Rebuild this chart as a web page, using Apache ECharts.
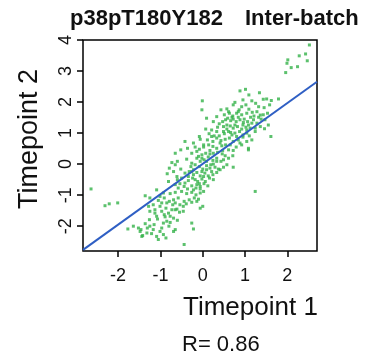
<!DOCTYPE html>
<html>
<head>
<meta charset="utf-8">
<script src="https://cdn.jsdelivr.net/npm/echarts@6/dist/echarts.min.js"></script>
<style>
  html, body { margin: 0; padding: 0; background: #ffffff; }
  #chart { width: 368px; height: 358px; }
</style>
</head>
<body>
<div id="chart"></div>
<script>
// p38pT180Y182 phospho-signal, inter-batch comparison: timepoint 1 vs timepoint 2
const timepoint1 = [
  2.52, 2.43, 2.47, 2.28, 2.01, 1.99, 2.09, 2.24, 1.96,
  0.88, 1.01, 1.34, 1.09,
  -0.01, 0.95, 1.16, 1.43, 1.51, 1.62, 1.79, 1.25, 0.76,
  -0.02, 0.43, 0.57, 0.72, 0.86, 1.09, 1.32, 1.45, 1.58, 0.92, 1.02,
  0.09, 0.63, 0.71, 0.80, 0.92, 1.04, 1.17, 1.28, 1.36, 1.53, 1.13, 1.21, 0.51, 0.33,
  0.25, 0.39, 0.54, 0.59, 0.66, 0.72, 0.79, 0.88, 0.98, 1.06, 1.38, 1.47, 1.28, 1.16, 0.57,
  0.07, 0.21, 0.35, 0.49, 0.65, 0.72, 0.82, 0.95, 1.02, 1.12, 1.24, 1.36, 1.46, 0.49, 1.55,
  -0.42, -0.08, 0.15, 0.27, 0.39, 0.51, 0.61, 0.69, 0.76, 0.87, 0.95, 1.04, 1.10, 1.61, 1.24,
  -0.22, -0.06, 0.02, 0.11, 0.24, 0.33, 0.43, 0.53, 0.63, 0.72, 0.84, 0.95, 1.04, 1.08, 1.08, 1.16,
  -0.52, -0.36, -0.18, -0.08, 0.02, 0.14, 0.24, 0.33, 0.45, 0.54, 0.65, 0.79, 0.92, 0.47, 0.61,
  -0.65, -0.26, -0.14, -0.02, 0.07, 0.17, 0.25, 0.35, 0.46, 0.53, 0.72, 0.71, 0.61, -0.02,
  -0.73, -0.60, -0.38, -0.26, -0.14, -0.06, 0.03, 0.13, 0.24, 0.33, 0.43, 0.25, 0.49,
  -0.79, -0.65, -0.52, -0.28, -0.18, -0.08, 0.00, 0.09, 0.17, 0.29, 0.37, 0.49, 0.57, 0.72, 0.41,
  -0.84, -0.69, -0.61, -0.42, -0.32, -0.22, -0.14, -0.06, 0.05, 0.13, 0.24, 0.33, -0.22, -0.02,
  -0.81, -0.60, -0.50, -0.34, -0.24, -0.12, -0.02, 0.06, 0.16, 0.25, -0.14, -0.06,
  -0.65, -0.58, -0.44, -0.36, -0.26, -0.16, -0.06, 0.03, 0.12, -0.54,
  -1.36, -1.09, -0.93, -0.77, -0.65, -0.50, -0.38, -0.26, -0.16, -0.06, 0.02, 1.24, -1.01,
  -1.25, -1.05, -0.91, -0.79, -0.69, -0.58, -0.44, -0.32, -0.20, -0.10, -0.26, -0.14,
  -2.31, -2.21, -2.01, -1.28, -1.17, -0.97, -0.87, -0.71, -0.61, -0.46, -0.39, 0.00, -0.06,
  -1.25, -1.13, -0.97, -0.91, -0.81, -0.65, -0.55, -0.46, -0.77,
  -1.26, -1.07, -0.89, -0.85, -0.69, -0.60, -1.15, -0.26,
  -1.64, -1.52, -1.36, -1.25, -1.46, -0.97, -0.80, -0.65, -0.22, -1.77,
  -1.48, -1.32, -1.42, -1.21, -1.09, -0.93, -0.69,
  -1.44, -1.05, -0.87, -0.44,
  -2.64,
  0.61, 0.69, 0.84, 0.96, 1.08, 1.20, 1.32, 1.43, 0.84, 0.47,
  0.76, 0.92, 1.04, 0.57, 0.66, 0.33, 0.21, 0.80, 0.88, 0.41,
  -0.10, 0.09, 0.19, 0.02, -0.18, -0.26, 0.09, 0.21, -0.34, -0.08, -0.22, -0.42, 0.33, 0.17,
  -0.85, -0.73, -1.01, -1.09, -0.93, -0.77, -1.31, -1.17, -1.01, -0.65, -0.54, -1.13
];
const timepoint2 = [
  3.84, 3.55, 3.33, 3.49, 3.36, 3.25, 3.11, 3.14, 2.95,
  2.36, 2.41, 2.30, 2.23,
  2.04, 2.07, 2.04, 2.09, 2.10, 2.05, 2.10, 1.96, 1.99,
  1.75, 1.75, 1.78, 1.91, 1.75, 1.77, 1.85, 1.82, 1.91, 1.85, 1.91,
  1.48, 1.64, 1.55, 1.64, 1.59, 1.64, 1.67, 1.69, 1.58, 1.64, 1.51, 1.55, 1.59, 1.53,
  1.37, 1.30, 1.43, 1.48, 1.40, 1.45, 1.37, 1.43, 1.45, 1.37, 1.45, 1.43, 1.32, 1.32, 1.26,
  1.13, 1.10, 1.19, 1.21, 1.23, 1.16, 1.21, 1.26, 1.19, 1.16, 1.16, 1.21, 1.14, 1.05, 1.26,
  0.73, 0.89, 0.98, 0.91, 0.91, 0.98, 1.05, 0.94, 1.00, 1.05, 0.94, 1.00, 0.91, 0.89, 1.05,
  0.68, 0.80, 0.62, 0.78, 0.73, 0.84, 0.76, 0.80, 0.84, 0.73, 0.78, 0.87, 0.73, 0.51, 0.46, 0.78,
  0.46, 0.51, 0.55, 0.48, 0.55, 0.62, 0.57, 0.51, 0.59, 0.62, 0.62, 0.55, 0.62, 0.44, 0.46,
  0.35, 0.35, 0.41, 0.30, 0.35, 0.44, 0.35, 0.38, 0.33, 0.27, 0.44, 0.27, 0.19, 0.19,
  0.05, 0.09, 0.16, 0.03, 0.19, 0.09, 0.14, 0.23, 0.12, 0.19, 0.09, 0.00, 0.14,
  -0.13, -0.02, -0.16, -0.08, -0.02, -0.08, -0.16, -0.05, -0.13, -0.10, -0.16, -0.10, -0.02, -0.10, -0.18,
  -0.31, -0.24, -0.40, -0.29, -0.24, -0.34, -0.27, -0.38, -0.29, -0.38, -0.34, -0.27, -0.18, -0.24,
  -0.56, -0.50, -0.45, -0.53, -0.45, -0.56, -0.48, -0.56, -0.45, -0.50, -0.66, -0.72,
  -0.66, -0.77, -0.72, -0.80, -0.70, -0.77, -0.80, -0.63, -0.70, -0.63,
  -1.02, -0.83, -0.93, -0.95, -0.91, -0.88, -0.95, -0.91, -0.99, -0.93, -0.88, -0.88, -1.04,
  -1.09, -1.17, -1.09, -1.20, -1.15, -1.09, -1.20, -1.15, -1.09, -1.13, -1.23, -1.20,
  -1.34, -1.28, -1.25, -1.36, -1.31, -1.25, -1.42, -1.31, -1.45, -1.36, -1.28, -1.36, -1.42,
  -1.52, -1.58, -1.52, -1.63, -1.58, -1.47, -1.55, -1.52, -1.68,
  -1.79, -1.77, -1.70, -1.84, -1.74, -1.81, -1.95, -1.90,
  -2.00, -2.06, -1.92, -2.00, -2.11, -2.06, -2.00, -2.11, -2.09, -2.09,
  -2.17, -2.22, -2.30, -2.24, -2.33, -2.27, -2.17,
  -2.33, -2.43, -2.38, -2.59,
  -0.80,
  1.69, 1.51, 1.51, 1.34, 1.26, 1.43, 1.51, 1.59, 1.69, 1.37,
  1.26, 1.13, 1.10, 1.13, 1.02, 1.05, 0.89, 0.89, 0.68, 0.68,
  0.25, 0.09, -0.02, -0.40, -0.50, -0.24, -0.18, -0.24, -0.40, -0.63, -0.83, -0.61, 0.09, 0.33,
  -1.25, -1.47, -1.36, -1.68, -1.90, -1.88, -2.06, -2.11, -2.17, -1.25, -1.31, -1.47
];

// Axis tick positions and ranges
const xTicks = [-2, -1, 0, 1, 2];
const yTicks = [-2, -1, 0, 1, 2, 3, 4];
const xRange = [-2.83, 2.70];
const yRange = [-2.80, 4.0];

// Least-squares fit line and correlation
const fitIntercept = 0.01;
const fitSlope = 0.98;
const correlation = '0.86';

const points = timepoint1.map((x, i) => [x, timepoint2[i]]);
const fitLine = xRange.map(x => [x, fitIntercept + fitSlope * x]);

const FONT = 'Liberation Sans, Arial, sans-serif';
const chart = echarts.init(document.getElementById('chart'), null, { renderer: 'canvas' });

chart.setOption({
  backgroundColor: '#ffffff',
  animation: false,
  title: [
    { text: 'p38pT180Y182', left: 65, top: 3,
      textStyle: { fontFamily: FONT, fontSize: 22, fontWeight: 'bold', color: '#111' } },
    { text: 'Inter-batch', left: 240, top: 3,
      textStyle: { fontFamily: FONT, fontSize: 22, fontWeight: 'bold', color: '#111' } }
  ],
  grid: {
    left: 83, top: 40, width: 234, height: 211,
    show: true, borderColor: '#000', borderWidth: 1.5, backgroundColor: 'transparent'
  },
  xAxis: {
    type: 'value', min: xRange[0], max: xRange[1],
    axisLine: { show: false, onZero: false },
    splitLine: { show: false },
    axisTick: { show: true, inside: false, length: 6, customValues: xTicks,
      lineStyle: { color: '#000', width: 1.5 } },
    axisLabel: { customValues: xTicks, margin: 16, fontFamily: FONT, fontSize: 18, color: '#111',
      formatter: v => String(v) }
  },
  yAxis: {
    type: 'value', min: yRange[0], max: yRange[1],
    axisLine: { show: false, onZero: false },
    splitLine: { show: false },
    axisTick: { show: true, inside: false, length: 6, customValues: yTicks,
      lineStyle: { color: '#000', width: 1.5 } },
    axisLabel: { customValues: yTicks, rotate: 90, margin: 8, fontFamily: FONT, fontSize: 18, color: '#111',
      formatter: v => String(v) }
  },
  graphic: [
    { type: 'text', left: 183, top: 295,
      style: { text: 'Timepoint 1', fontFamily: FONT, fontSize: 26, fill: '#111' } },
    { type: 'text', x: 30, y: 139, rotation: Math.PI / 2,
      style: { text: 'Timepoint 2', fontFamily: FONT, fontSize: 27, fill: '#111',
        align: 'center', verticalAlign: 'middle' } },
    { type: 'text', left: 182, top: 334,
      style: { text: 'R= ' + correlation, fontFamily: FONT, fontSize: 22, fill: '#111' } }
  ],
  series: [
    {
      type: 'scatter',
      data: points,
      symbol: 'rect',
      symbolSize: [3, 3],
      itemStyle: { color: '#33b148' },
      clip: true,
      z: 2
    },
    {
      type: 'line',
      data: fitLine,
      symbol: 'none',
      lineStyle: { color: '#2f5fc4', width: 2 },
      clip: true,
      z: 3
    }
  ]
});
</script>
</body>
</html>
